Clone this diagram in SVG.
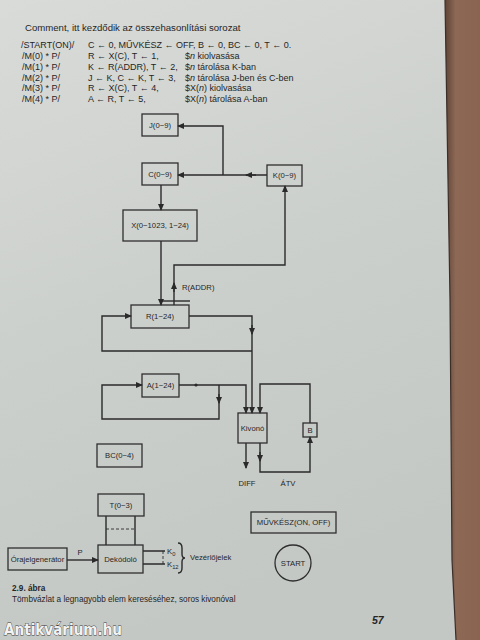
<svg xmlns="http://www.w3.org/2000/svg" width="480" height="640" viewBox="0 0 480 640">
<defs>
<linearGradient id="paper" x1="0" y1="0" x2="0.3" y2="1">
<stop offset="0" stop-color="#d9dbd8"/>
<stop offset="0.5" stop-color="#ccd0cd"/>
<stop offset="1" stop-color="#c4c8c5"/>
</linearGradient>
<linearGradient id="wood" x1="0" y1="0" x2="1" y2="0">
<stop offset="0" stop-color="#5e4336"/>
<stop offset="0.3" stop-color="#8c6855"/>
<stop offset="1" stop-color="#8a6451"/>
</linearGradient>
<marker id="ah" markerUnits="userSpaceOnUse" markerWidth="7" markerHeight="6" refX="6" refY="3" orient="auto">
<path d="M0,0 L7,3 L0,6 z" fill="#2a2a2a"/>
</marker>
<style>
.t{font-family:"Liberation Sans","DejaVu Sans",sans-serif;fill:#262626}
.h{font-size:9px}
.l{font-size:7.7px;text-anchor:middle;dominant-baseline:central}
.b{fill:none;stroke:#2e2e2e;stroke-width:1.3}
.c{fill:none;stroke:#2a2a2a;stroke-width:1.4}
.e{marker-end:url(#ah)}
.d{stroke-dasharray:3 2;stroke-width:0.9}
</style>
</defs>
<rect x="0" y="0" width="480" height="640" fill="url(#paper)"/>
<path d="M445,0 L480,0 L480,640 L456,640 L452,560 L450,300 Z" fill="url(#wood)"/>
<path d="M445,0 L450,300 L452,560 L456,640" fill="none" stroke="#3d2e28" stroke-width="1.2"/>

<g id="header">
<text class="t" x="25" y="31" font-size="9.6">Comment, itt kezdődik az összehasonlítási sorozat</text>
<text class="t h" x="21" y="48">/START(ON)/</text>
<text class="t h" x="88" y="48">C ← 0, MŰVKÉSZ ← OFF, B ← 0, BC ← 0, T ← 0.</text>
<text class="t h" x="22" y="59">/M(0) * P/</text>
<text class="t h" x="88" y="59">R ← X(C), T ← 1,</text>
<text class="t h" x="185" y="59">$<tspan font-style="italic">n</tspan> kiolvasása</text>
<text class="t h" x="22" y="69.5">/M(1) * P/</text>
<text class="t h" x="88" y="69.5">K ← R(ADDR), T ← 2,</text>
<text class="t h" x="185" y="69.5">$<tspan font-style="italic">n</tspan> tárolása K-ban</text>
<text class="t h" x="22" y="80.5">/M(2) * P/</text>
<text class="t h" x="88" y="80.5">J ← K, C ← K, T ← 3,</text>
<text class="t h" x="185" y="80.5">$<tspan font-style="italic">n</tspan> tárolása J-ben és C-ben</text>
<text class="t h" x="22" y="91">/M(3) * P/</text>
<text class="t h" x="88" y="91">R ← X(C), T ← 4,</text>
<text class="t h" x="185" y="91">$X(<tspan font-style="italic">n</tspan>) kiolvasása</text>
<text class="t h" x="22" y="101.5">/M(4) * P/</text>
<text class="t h" x="88" y="101.5">A ← R, T ← 5,</text>
<text class="t h" x="185" y="101.5">$X(<tspan font-style="italic">n</tspan>) tárolása A-ban</text>
</g>

<g id="connectors">
<path class="c e" d="M267,175 H178"/>
<path class="c e" d="M256,175 H246"/>
<path class="c e" d="M223,175 V126 H178"/>
<path class="c e" d="M161,185 V210"/>
<path class="c e" d="M161,241 V305"/>
<path class="c e" d="M174,305 V265 H285 V186"/>
<path class="c e" d="M174,292 V283"/>
<path class="c" d="M161,301 H190" stroke-width="0.8"/>
<path class="c e" d="M189,316 H252 V413"/>
<path class="c e" d="M252,325 V334"/>
<path class="c e" d="M252,351 H102 V316 H131"/>
<path class="c e" d="M179,385 H246 V413"/>
<circle cx="196" cy="385" r="1.6" fill="#2a2a2a"/>
<path class="c e" d="M219,385 V419 H102 V385 H142"/>
<path class="c e" d="M219,394 V403"/>
<path class="c e" d="M310,423 V384 H260 V413"/>
<path class="c e" d="M260,443 V472 H310 V437"/>
<path class="c e" d="M260,452 V461"/>
<path class="c e" d="M246,443 V468"/>
<path class="c" d="M106,516 V545 M135,516 V545"/>
<path class="c d" d="M106,529 H135"/>
<path class="c e" d="M67,560 H98" stroke-width="1.9"/>
<path class="c" d="M143,551 H165 M143,564 H165"/>
<path class="c d" d="M163,551 V564"/>
<path class="c" d="M178,543 q4,0 4,5 v6 q0,4 3,4 q-3,0 -3,4 v6 q0,5 -4,5" stroke-width="0.9"/>
</g>

<g id="J"><rect class="b" x="142" y="114" width="36" height="22"/><text class="t l" x="160" y="125">J(0−9)</text></g>
<g id="C"><rect class="b" x="142" y="163" width="36" height="22"/><text class="t l" x="160" y="174">C(0−9)</text></g>
<g id="K"><rect class="b" x="267" y="165" width="35" height="21"/><text class="t l" x="284.5" y="175.5">K(0−9)</text></g>
<g id="X"><rect class="b" x="123" y="210" width="74" height="31"/><text class="t l" x="160" y="225.5">X(0−1023, 1−24)</text></g>
<g id="R"><rect class="b" x="131" y="305" width="58" height="23"/><text class="t l" x="160" y="316.5">R(1−24)</text></g>
<text class="t" x="182" y="290" font-size="7.7">R(ADDR)</text>
<g id="Kivono"><rect class="b" x="238" y="413" width="29" height="30"/><text class="t l" x="252.5" y="428" font-size="7">Kivonó</text></g>
<g id="A"><rect class="b" x="142" y="374" width="37" height="23"/><text class="t l" x="160.5" y="385.5">A(1−24)</text></g>
<g id="B"><rect class="b" x="303" y="423" width="14" height="14"/><text class="t l" x="310" y="430">B</text></g>
<text class="t l" x="247" y="483">DIFF</text>
<text class="t l" x="288" y="483">ÁTV</text>
<g id="BC"><rect class="b" x="97" y="444" width="45" height="23"/><text class="t l" x="119.5" y="455.5">BC(0−4)</text></g>
<g id="T"><rect class="b" x="98" y="494" width="46" height="22"/><text class="t l" x="121" y="505">T(0−3)</text></g>
<g id="Dekodolo"><rect class="b" x="98" y="545" width="45" height="28"/><text class="t l" x="120.5" y="559">Dekódoló</text></g>
<g id="Orajel"><rect class="b" x="8" y="548" width="59" height="22"/><text class="t l" x="37.5" y="559" font-size="7">Órajelgenerátor</text></g>
<text class="t l" x="80" y="552">P</text>
<text class="t" x="167" y="554" font-size="7.7">K<tspan font-size="5.8" dy="1.5">0</tspan></text>
<text class="t" x="167" y="567" font-size="7.7">K<tspan font-size="5.8" dy="1.5">12</tspan></text>
<text class="t" x="190" y="560" font-size="7.7">Vezérlőjelek</text>
<g id="MUVKESZ"><rect class="b" x="251" y="512" width="85" height="21"/><text class="t l" x="293.5" y="522.5">MŰVKÉSZ(ON, OFF)</text></g>
<g id="START"><circle class="b" cx="293" cy="563" r="18"/><text class="t l" x="293" y="563">START</text></g>

<text class="t" x="12" y="591" font-size="8.2" font-weight="bold">2.9. ábra</text>
<text class="t" x="12" y="602" font-size="8.2">Tömbvázlat a legnagyobb elem kereséséhez, soros kivonóval</text>
<text class="t" x="372" y="624" font-size="10.5" font-weight="bold" font-style="italic">57</text>
<text x="4" y="635" font-family="'DejaVu Sans','Liberation Sans',sans-serif" font-size="16" font-weight="bold" fill="#f2f2f2" stroke="#3a3a3a" stroke-width="0.8" paint-order="stroke" textLength="118" lengthAdjust="spacingAndGlyphs">Antikvárium.hu</text>
</svg>
